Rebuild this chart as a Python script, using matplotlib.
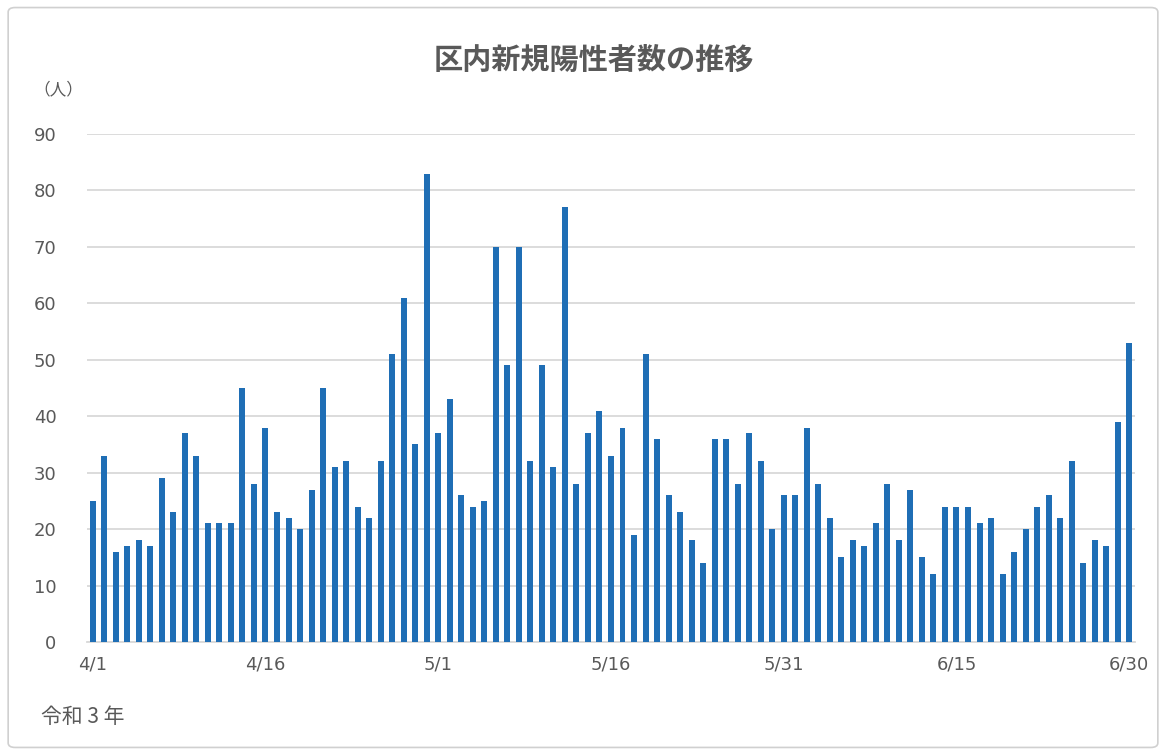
import matplotlib.pyplot as plt
from matplotlib.patches import FancyBboxPatch

plt.rcParams['font.family'] = ['Noto Sans CJK JP', 'DejaVu Sans']

# daily new cases, 4/1 .. 6/30 (令和3年)
dates = ['4/1', '4/16', '5/1', '5/16', '5/31', '6/15', '6/30']
cases = [25, 33, 16, 17, 18, 17, 29, 23, 37, 33, 21, 21, 21, 45, 28, 38,
         23, 22, 20, 27, 45, 31, 32,
         24, 22, 32, 51, 61, 35, 83,
         37, 43, 26, 24, 25, 70, 49, 70, 32, 49, 31, 77, 28, 37, 41,
         33, 38, 19, 51, 36, 26, 23, 18, 14, 36, 36, 28, 37, 32, 20, 26,
         26, 38, 28, 22, 15, 18, 17,
         21, 28, 18, 27, 15, 12, 24, 24, 24, 21, 22, 12, 16, 20, 24, 26,
         22, 32, 14, 18, 17, 39, 53]

grey = '#595959'
fig = plt.figure(figsize=(11.66, 7.55), dpi=100)
fig.patches.append(FancyBboxPatch((0.007, 0.01), 0.986, 0.98, boxstyle='round,pad=0,rounding_size=0.006',
                                  transform=fig.transFigure, fc='none', ec='#d0d0d0', lw=1.2))

ax = fig.add_axes([0.0746, 0.1497, 0.8988, 0.6728])
x = list(range(len(cases)))
ax.bar(x, cases, width=0.52, color='#1f6eb5', zorder=3)

ax.set_xlim(-0.5, len(cases) - 0.5)
ax.set_ylim(0, 90)
ax.set_yticks(range(0, 91, 10))
ax.set_xticks(range(0, len(cases), 15))
ax.set_xticklabels(dates)
ax.grid(axis='y', color='#d9d9d9', lw=1.3, zorder=0)
for s in ['top', 'right', 'left']:
    ax.spines[s].set_visible(False)
ax.spines['bottom'].set_color('#d9d9d9')
ax.spines['bottom'].set_linewidth(1.3)
ax.tick_params(length=0, labelsize=13, colors=grey)
ax.tick_params(axis='y', pad=22)
ax.tick_params(axis='x', pad=10)
for lab in ax.get_xticklabels() + ax.get_yticklabels():
    lab.set_family('DejaVu Sans')

fig.text(0.509, 0.921, '区内新規陽性者数の推移', ha='center', va='center',
         fontsize=21, fontweight='bold', color=grey)
fig.text(0.029, 0.881, '（人）', ha='left', va='center', fontsize=12, color=grey)
fig.text(0.035, 0.05, '令和 3 年', ha='left', va='center', fontsize=15, color=grey)

fig.savefig('out.png', dpi=100)
